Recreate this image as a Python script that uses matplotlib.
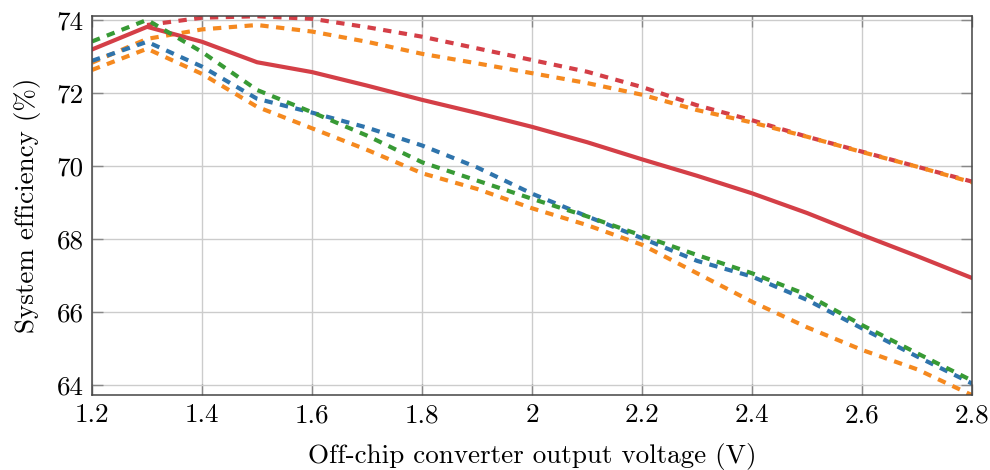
import matplotlib
matplotlib.use("Agg")
import matplotlib.pyplot as plt
from matplotlib.ticker import FuncFormatter, MultipleLocator

plt.rcParams['font.family'] = ['cmr10', 'DejaVu Serif']
plt.rcParams['axes.formatter.use_mathtext'] = True
plt.rcParams['lines.scale_dashes'] = False

# Output voltage sweep (V)
voltage = [1.2, 1.3, 1.4, 1.5, 1.6, 1.7, 1.8, 1.9, 2.0, 2.1, 2.2,
           2.3, 2.4, 2.5, 2.6, 2.7, 2.8]
voltage_from_13 = voltage[1:]

# System efficiency (%) for each configuration
eff_red_solid = [73.19, 73.81, 73.40, 72.84, 72.57, 72.20, 71.81, 71.45,
                 71.07, 70.65, 70.18, 69.73, 69.25, 68.71, 68.11, 67.53, 66.93]
eff_red_dashed = [73.86, 74.06, 74.10, 74.03, 73.80, 73.54, 73.22, 72.90,
                  72.58, 72.16, 71.66, 71.25, 70.80, 70.39, 69.98, 69.57]
eff_orange_high = [72.83, 73.48, 73.74, 73.86, 73.68, 73.40, 73.07, 72.81,
                   72.54, 72.27, 71.95, 71.53, 71.19, 70.80, 70.38, 69.98, 69.55]
eff_green = [73.41, 74.00, 73.12, 72.08, 71.47, 70.83, 70.10, 69.60,
             69.10, 68.62, 68.09, 67.56, 67.06, 66.47, 65.64, 64.87, 64.12]
eff_blue = [72.88, 73.40, 72.72, 71.84, 71.46, 71.05, 70.56, 69.96,
            69.24, 68.62, 68.02, 67.40, 66.97, 66.33, 65.55, 64.78, 64.04]
eff_orange_low = [72.63, 73.21, 72.52, 71.62, 71.03, 70.44, 69.80, 69.37,
                  68.84, 68.38, 67.84, 67.06, 66.28, 65.58, 64.96, 64.43, 63.72]

c_red = '#d43f47'
c_orange = '#f5891f'
c_blue = '#2f74ac'
c_green = '#389a35'

lw = 3.0
dash = (0, (6.0, 5.4))
fs = 19.5

fig = plt.figure(figsize=(9.9, 4.7), dpi=100)
ax = fig.add_axes([0.093, 0.159, 0.889, 0.808])

ax.plot(voltage_from_13, eff_red_dashed, color=c_red, lw=lw, ls=dash,
        dash_capstyle='butt')
ax.plot(voltage, eff_orange_high, color=c_orange, lw=lw, ls=dash,
        dash_capstyle='butt')
ax.plot(voltage, eff_red_solid, color=c_red, lw=lw, solid_joinstyle='miter')
ax.plot(voltage, eff_blue, color=c_blue, lw=lw, ls=dash, dash_capstyle='butt')
ax.plot(voltage, eff_green, color=c_green, lw=lw, ls=dash,
        dash_capstyle='butt')
ax.plot(voltage, eff_orange_low, color=c_orange, lw=lw, ls=dash,
        dash_capstyle='butt')

ax.set_xlim(1.2, 2.8)
ax.set_ylim(63.72, 74.12)
ax.xaxis.set_major_locator(MultipleLocator(0.2))
ax.yaxis.set_major_locator(MultipleLocator(2))
ax.xaxis.set_major_formatter(FuncFormatter(lambda v, p: f"{v:g}"))
ax.yaxis.set_major_formatter(FuncFormatter(lambda v, p: f"{v:g}"))

ax.grid(True, color='#cccccc', lw=1.0)
ax.set_axisbelow(True)
ax.tick_params(direction='in', length=8, width=1.0, color='#888888',
               top=True, right=True, labelsize=fs, pad=6,
               labelcolor='#000000')
for s in ax.spines.values():
    s.set_color('#444444')
    s.set_linewidth(1.1)

ax.set_xlabel('Off-chip converter output voltage (V)', fontsize=fs,
              labelpad=11, color='#000000')
ax.set_ylabel('System efficiency (%)', fontsize=fs, labelpad=11,
              color='#000000')

fig.savefig('out.png', dpi=100)
